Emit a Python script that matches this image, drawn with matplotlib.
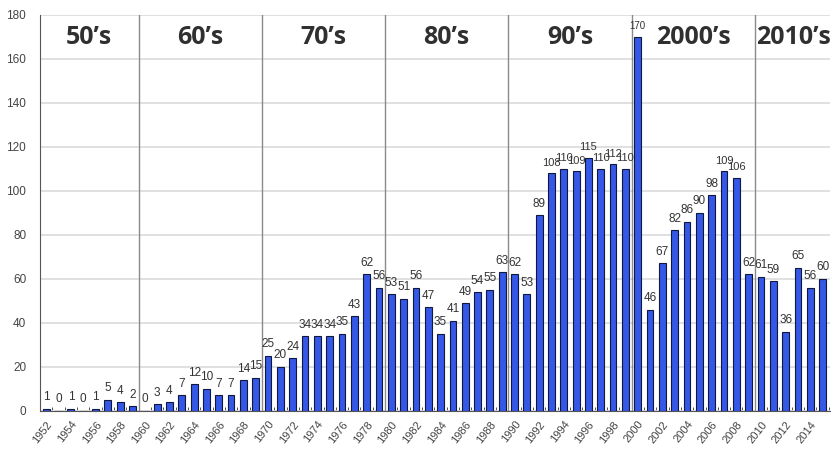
import matplotlib

matplotlib.use("Agg")
import matplotlib.pyplot as plt
import numpy as np

years = list(range(1952, 2016))
counts = [
    1, 0, 1, 0, 1, 5, 4, 2,
    0, 3, 4, 7, 12, 10, 7, 7, 14, 15,
    25, 20, 24, 34, 34, 34, 35, 43, 62, 56,
    53, 51, 56, 47, 35, 41, 49, 54, 55, 63,
    62, 53, 89, 108, 110, 109, 115, 110, 112, 110,
    170, 46, 67, 82, 86, 90, 98, 109, 106, 62,
    61, 59, 36, 65, 56, 60,
]
decade_names = ["50\u2019s", "60\u2019s", "70\u2019s", "80\u2019s", "90\u2019s", "2000\u2019s", "2010\u2019s"]
decade_mid = [1955.5, 1964.5, 1974.5, 1984.5, 1994.5, 2004.5, 2012.6]
decade_breaks = [1959.5, 1969.5, 1979.5, 1989.5, 1999.5, 2009.5]

NARROW = ["Liberation Sans Narrow", "Liberation Sans", "DejaVu Sans"]

fig = plt.figure(figsize=(8.35, 4.49), dpi=100)
ax = fig.add_axes([0.048, 0.085, 0.946, 0.882])

ax.bar(years, counts, width=0.55, color="#3558e6", edgecolor="#101840", linewidth=0.8, zorder=3)

for x, v in zip(years, counts):
    if v >= 150:
        size = 7
    elif v >= 100:
        size = 8
    else:
        size = 8.5
    ax.text(x, v + 2.5, str(v), ha="center", va="bottom", fontsize=size,
            color="#333333", family=NARROW, zorder=4)

for b in decade_breaks:
    ax.axvline(b, color="#8a8a8a", linewidth=1.0, zorder=2)

for name, xm in zip(decade_names, decade_mid):
    ax.text(xm, 169.5, name, ha="center", va="center", fontsize=18,
            fontweight="bold", color="#303030", family=["Open Sans", "DejaVu Sans"], zorder=5)

ax.set_xlim(1951.6, 2015.6)
ax.set_ylim(0, 180)
ax.set_yticks(np.arange(0, 181, 20))
ax.yaxis.grid(True, color="#dddddd", linewidth=1.3, zorder=0)
ax.set_axisbelow(True)

ax.set_xticks(years[::2])
ax.set_xticklabels([str(y) for y in years[::2]], rotation=52, ha="right",
                   rotation_mode="anchor", fontsize=8, color="#444444", family=NARROW)
ax.set_xticks(np.arange(1951.5, 2016, 1.0), minor=True)
ax.tick_params(axis="x", which="major", length=0, pad=6)
ax.tick_params(axis="x", which="minor", direction="in", length=3, color="#333333")
ax.tick_params(axis="y", length=0, labelsize=8.5, labelcolor="#444444", pad=10)
for lbl in ax.get_yticklabels():
    lbl.set_family(NARROW)

for side in ["top", "right"]:
    ax.spines[side].set_visible(False)
ax.spines["left"].set_color("#555555")
ax.spines["bottom"].set_color("#555555")

fig.savefig("out.png", dpi=100)
